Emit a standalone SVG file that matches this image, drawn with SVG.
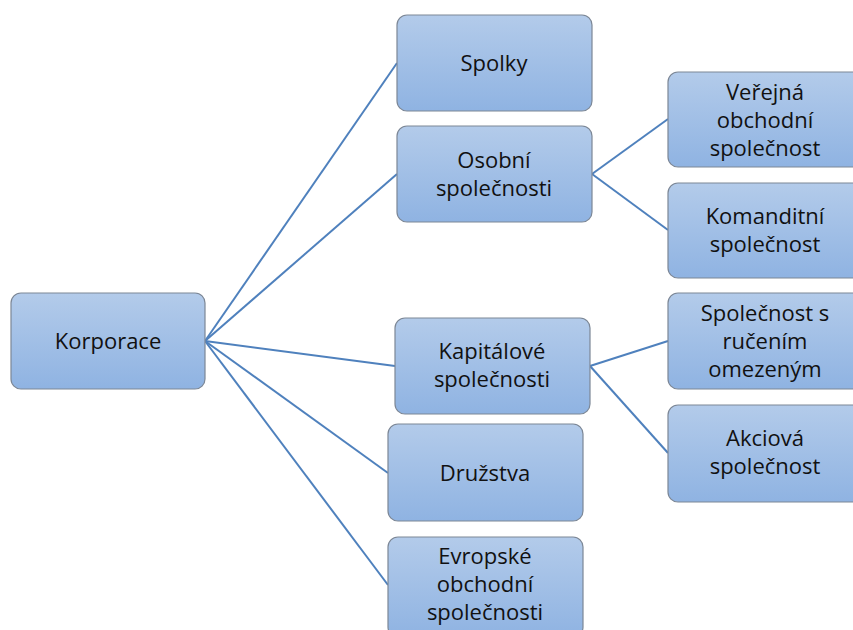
<svg xmlns="http://www.w3.org/2000/svg" width="853" height="630" viewBox="0 0 853 630">
<defs>
<linearGradient id="g" x1="0" y1="0" x2="0" y2="1">
<stop offset="0" stop-color="#b3cbea"/>
<stop offset="1" stop-color="#8fb3e2"/>
</linearGradient>
</defs>
<style>
.box{fill:url(#g);stroke:#7c8796;stroke-width:1.2}
.t{font-family:"Open Sans","Liberation Sans",sans-serif;font-size:22px;fill:#111;text-anchor:middle}
.c line{stroke:#4f81bd;stroke-width:2}
</style>
<rect width="853" height="630" fill="#fff"/>
<g class="c" id="connectors">
<line x1="205" y1="341" x2="397" y2="63"/>
<line x1="205" y1="341" x2="397" y2="174"/>
<line x1="205" y1="341" x2="395" y2="366"/>
<line x1="205" y1="341" x2="388" y2="473"/>
<line x1="205" y1="341" x2="388" y2="585"/>
<line x1="592" y1="174" x2="668" y2="119"/>
<line x1="592" y1="174" x2="668" y2="230"/>
<line x1="590" y1="366" x2="668" y2="341"/>
<line x1="590" y1="366" x2="668" y2="453"/>
</g>
<g id="korporace"><rect class="box" x="11" y="293" width="194" height="96" rx="10"/><text class="t" x="108" y="349">Korporace</text></g>
<g id="spolky"><rect class="box" x="397" y="15" width="195" height="96" rx="10"/><text class="t" x="494" y="71">Spolky</text></g>
<g id="osobni"><rect class="box" x="397" y="126" width="195" height="96" rx="10"/><text class="t" x="494" y="168">Osobní</text><text class="t" x="494" y="196">společnosti</text></g>
<g id="kapitalove"><rect class="box" x="395" y="318" width="195" height="96" rx="10"/><text class="t" x="492" y="359">Kapitálové</text><text class="t" x="492" y="387">společnosti</text></g>
<g id="druzstva"><rect class="box" x="388" y="424" width="195" height="97" rx="10"/><text class="t" x="485" y="481">Družstva</text></g>
<g id="evropske"><rect class="box" x="388" y="537" width="195" height="100" rx="10"/><text class="t" x="485" y="564">Evropské</text><text class="t" x="485" y="592">obchodní</text><text class="t" x="485" y="620">společnosti</text></g>
<g id="verejna"><rect class="box" x="668" y="72" width="196" height="95" rx="10"/><text class="t" x="765" y="100">Veřejná</text><text class="t" x="765" y="128">obchodní</text><text class="t" x="765" y="156">společnost</text></g>
<g id="komanditni"><rect class="box" x="668" y="183" width="196" height="95" rx="10"/><text class="t" x="765" y="224">Komanditní</text><text class="t" x="765" y="252">společnost</text></g>
<g id="sro"><rect class="box" x="668" y="293" width="196" height="96" rx="10"/><text class="t" x="765" y="321">Společnost s</text><text class="t" x="765" y="349">ručením</text><text class="t" x="765" y="377">omezeným</text></g>
<g id="akciova"><rect class="box" x="668" y="405" width="196" height="97" rx="10"/><text class="t" x="765" y="446">Akciová</text><text class="t" x="765" y="474">společnost</text></g>
</svg>
